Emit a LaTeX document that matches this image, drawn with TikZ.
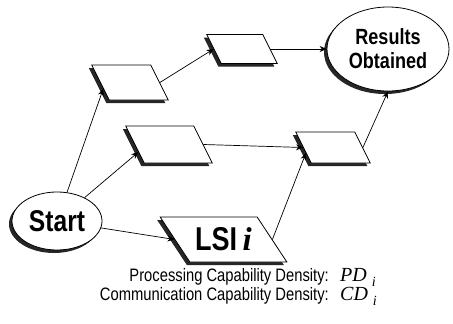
\documentclass[tikz,border=0pt]{standalone}
\usepackage{fontspec}
\setmainfont{Liberation Serif}
\newfontfamily\narrowsans[FakeStretch=0.82]{Liberation Sans}
\usetikzlibrary{shadows,arrows.meta,calc,shapes.geometric}

\begin{document}
\begin{tikzpicture}[x=1pt,y=-1pt,
  shadowed/.style={draw=black, line width=0.8pt, fill=white,
    drop shadow={shadow xshift=-3pt, shadow yshift=-3pt, opacity=1, fill=black!85}},
  terminal/.style={shadowed, ellipse, inner sep=0pt, align=center},
  task/.style={shadowed, rectangle, inner sep=0pt, xslant=-0.5, transform shape},
  flow/.style={-{Stealth[length=7pt,width=6pt]}, line width=0.7pt},
  caption/.style={inner sep=0pt, font=\narrowsans\fontsize{18}{19}\selectfont},
  density/.style={inner sep=0pt, font=\rmfamily\itshape\fontsize{20}{22}\selectfont},
]
\useasboundingbox (0,0) rectangle (453,324);

% start and end of the flow
\node[terminal, minimum width=90pt, minimum height=58pt,
      font=\narrowsans\bfseries\fontsize{30}{32}\selectfont] (start) at (57,221) {Start};
\node[terminal, minimum width=122pt, minimum height=84pt,
      font=\narrowsans\bfseries\fontsize{22}{24}\selectfont] (res) at (388,49) {Results\\Obtained};

% processing steps (slanted boxes)
\node[task, minimum width=59pt, minimum height=35pt] (p1) at (130,82.5) {};
\node[task, minimum width=56pt, minimum height=29pt] (p2) at (242,49) {};
\node[task, minimum width=68pt, minimum height=37pt] (p3) at (169,144.5) {};
\node[task, minimum width=59pt, minimum height=31pt] (p4) at (333,147.5) {};
\node[task, xslant=-0.16, minimum width=97pt, minimum height=45pt] (lsi) at (223.5,239.5) {};
\node[inner sep=0pt, font=\narrowsans\bfseries\fontsize{33}{35}\selectfont]
  (lsilabel) at (lsi.center) {LSI\,{\rmfamily\bfseries\itshape i}};

% connectors
\draw[flow] (start) -- ($(p1.west)!0.35!(p1.south west)$);
\draw[flow] (start) -- ($(p3.west)!0.4!(p3.south west)$);
\draw[flow] (start) -- (lsi.west);
\draw[flow] (p1.east) -- (p2.west);
\draw[flow] (p2.east) -- (res.west);
\draw[flow] (p3.east) -- (p4.west);
\draw[flow] (lsi.east) -- ($(p4.west)!0.35!(p4.south west)$);
\draw[flow] (p4.east) -- (res.south);

% capability densities
\node[caption, anchor=base east] (pdtext) at (329,281) {Processing Capability Density:};
\node[density, anchor=base west] (pd) at (340,281) {PD\hspace{5pt}\raisebox{-5pt}{\fontsize{14}{15}\selectfont i}};
\node[caption, anchor=base east] (cdtext) at (329,300) {Communication Capability Density:};
\node[density, anchor=base west] (cd) at (340,300) {CD\hspace{5pt}\raisebox{-5pt}{\fontsize{14}{15}\selectfont i}};
\end{tikzpicture}
\end{document}
